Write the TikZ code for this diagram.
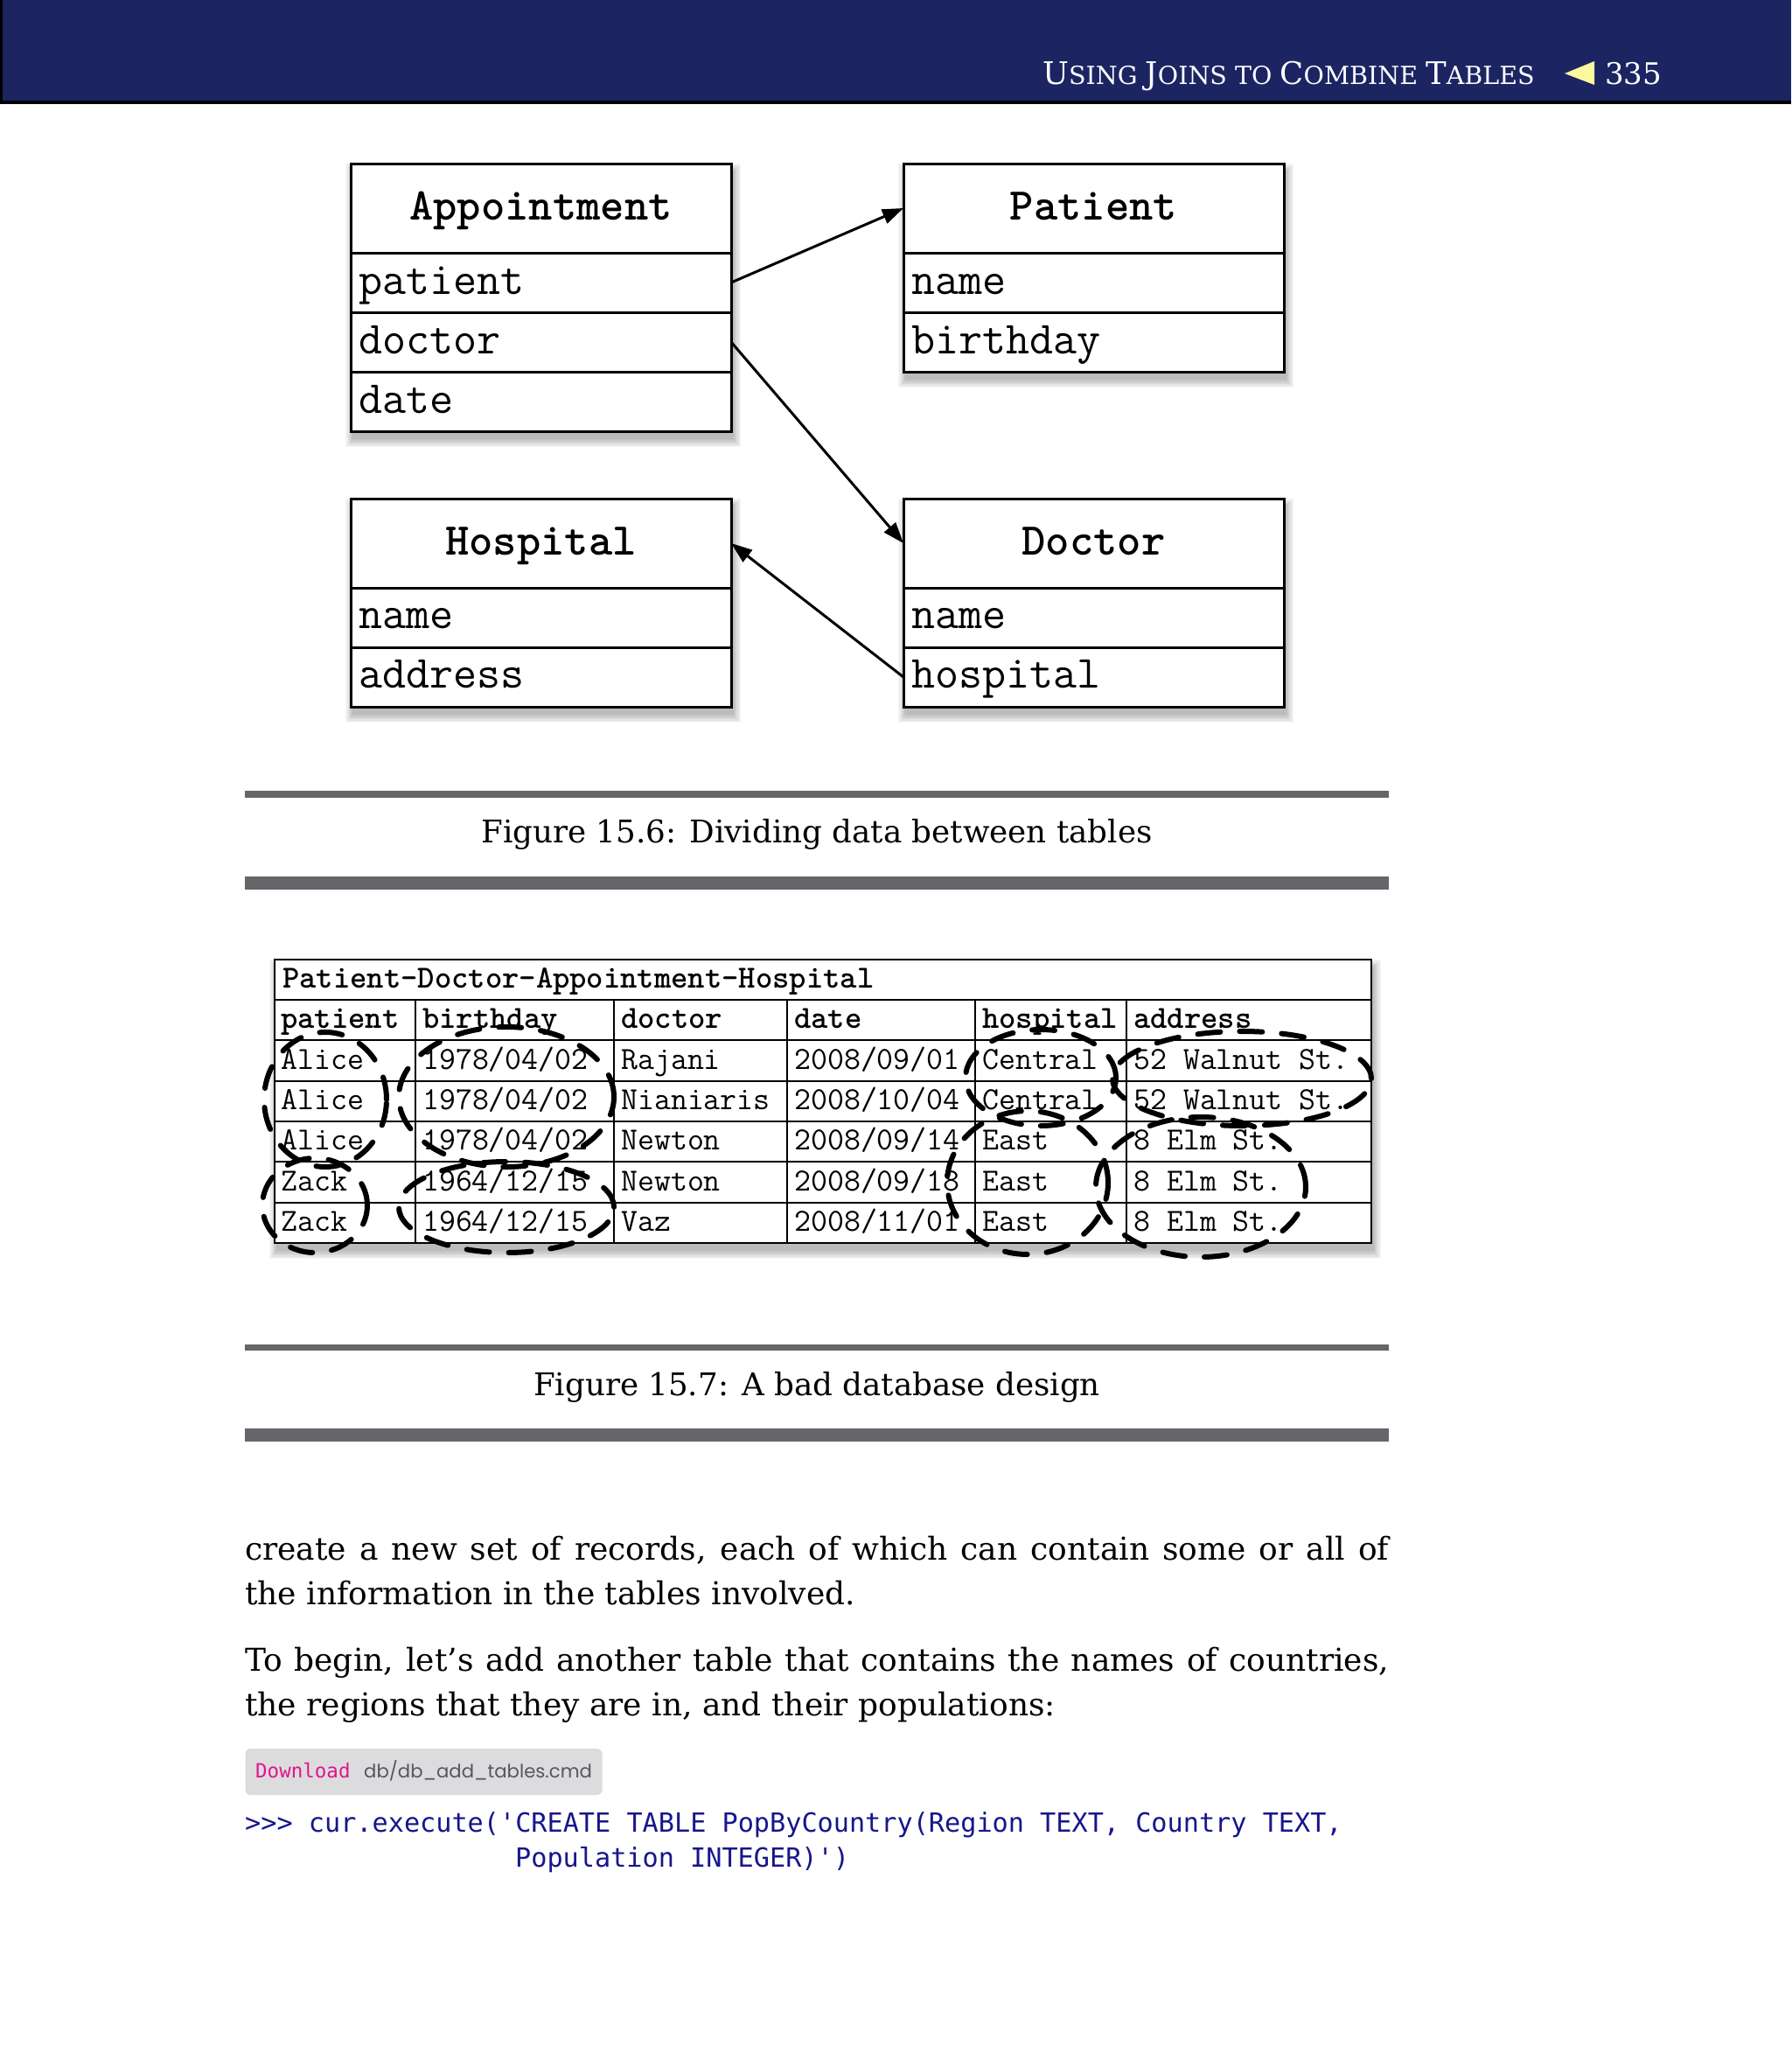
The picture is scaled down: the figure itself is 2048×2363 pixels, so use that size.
\documentclass[tikz,border=0pt]{standalone}
\usepackage{fontspec}
\usetikzlibrary{arrows.meta}
\newfontfamily\serf{DejaVu Serif}
\newfontfamily\codef{DejaVu Sans Mono}
\newfontfamily\popf{Poppins}
\definecolor{hdrblue}{RGB}{28,36,98}
\definecolor{codeblue}{RGB}{22,22,140}
\definecolor{dlmagenta}{RGB}{226,20,140}
\definecolor{pathgray}{RGB}{88,88,90}
\definecolor{dlbg}{RGB}{220,220,222}
\definecolor{rulegray}{RGB}{102,101,106}
\definecolor{triyellow}{RGB}{252,248,160}
\newcommand{\softshadow}[4]{%
  \foreach \k in {0,...,7}{%
    \fill[black,opacity=0.035] ({#1-\k*1.1+2},{#2+8-\k*1.1}) rectangle ({#3+\k*1.1+3},{#4+9+\k*1.3});}}
\tikzset{
  umlrow/.style={draw, line width=3pt, fill=white, minimum width=435pt, inner sep=0pt, outer sep=0pt},
  umltitle/.style={inner sep=0pt, anchor=base, font={\ttfamily\bfseries\fontsize{52}{60}\selectfont}},
  umltxt/.style={inner sep=0pt, anchor=base west, font={\ttfamily\fontsize{52.5}{60}\selectfont}},
  conn/.style={line width=3pt, -{Triangle[length=24pt,width=17pt]}},
  tblhead/.style={inner sep=0pt, anchor=base west, font={\ttfamily\bfseries\fontsize{36.8}{42}\selectfont}},
  tbltxt/.style={inner sep=0pt, anchor=base west, font={\ttfamily\fontsize{36.8}{42}\selectfont}},
  dashell/.style={line width=6pt, line cap=round, dash pattern=on 26pt off 22pt},
  capt/.style={inner sep=0pt, anchor=base, font={\serf\fontsize{35.7}{43}\selectfont}},
  body/.style={inner sep=0pt, anchor=base west, font={\serf\fontsize{36}{51}\selectfont}},
  coderow/.style={inner sep=0pt, anchor=base west, text=codeblue, font={\codef\fontsize{30.2}{40}\selectfont}},
}
\begin{document}
\begin{tikzpicture}[x=1pt,y=-1pt]
\useasboundingbox (0,0) rectangle (2048,2363);
\fill[white] (0,0) rectangle (2048,2363);
% header band
\fill[hdrblue] (0,0) rectangle (2048,116);
\fill[black] (0,115) rectangle (2048,119);
\fill[black] (0,0) rectangle (3,119);
\node[inner sep=0pt, anchor=base west, text=white] (hdr) at (1192,97)
  {\serf\fontsize{35.5}{40}\selectfont U\fontsize{28.5}{40}\selectfont SING \fontsize{35.5}{40}\selectfont J\fontsize{28.5}{40}\selectfont OINS TO \fontsize{35.5}{40}\selectfont C\fontsize{28.5}{40}\selectfont OMBINE \fontsize{35.5}{40}\selectfont T\fontsize{28.5}{40}\selectfont ABLES};
\fill[triyellow] (1789,84) -- (1823,70) -- (1823,97) -- cycle;
\node[inner sep=0pt, anchor=base west, text=white, font={\serf\fontsize{34}{40}\selectfont}] (pg) at (1835,97) {335};

% ---------- Figure 15.6 ----------
\softshadow{401}{187}{836}{493}
\softshadow{1033}{187}{1468}{425}
\softshadow{401}{570}{836}{808}
\softshadow{1033}{570}{1468}{808}
% Appointment
\node[umlrow, minimum height=102pt] (aptT) at (618.5,238) {};
\node[umlrow, minimum height=68pt] (aptP) at (618.5,323) {};
\node[umlrow, minimum height=68pt] (aptD) at (618.5,391) {};
\node[umlrow, minimum height=68pt] (aptA) at (618.5,459) {};
\node[umltitle] (aptTt) at (618.5,251) {Appointment};
\node[umltxt] (aptPt) at (410,336) {patient};
\node[umltxt] (aptDt) at (410,404) {doctor};
\node[umltxt] (aptAt) at (410,472) {date};
% Patient
\node[umlrow, minimum height=102pt] (patT) at (1250.5,238) {};
\node[umlrow, minimum height=68pt] (patN) at (1250.5,323) {};
\node[umlrow, minimum height=68pt] (patB) at (1250.5,391) {};
\node[umltitle] (patTt) at (1250.5,251) {Patient};
\node[umltxt] (patNt) at (1042,336) {name};
\node[umltxt] (patBt) at (1042,404) {birthday};
% Hospital
\node[umlrow, minimum height=102pt] (hosT) at (618.5,621) {};
\node[umlrow, minimum height=68pt] (hosN) at (618.5,706) {};
\node[umlrow, minimum height=68pt] (hosA) at (618.5,774) {};
\node[umltitle] (hosTt) at (618.5,634) {Hospital};
\node[umltxt] (hosNt) at (410,718) {name};
\node[umltxt] (hosAt) at (410,786) {address};
% Doctor
\node[umlrow, minimum height=102pt] (docT) at (1250.5,621) {};
\node[umlrow, minimum height=68pt] (docN) at (1250.5,706) {};
\node[umlrow, minimum height=68pt] (docH) at (1250.5,774) {};
\node[umltitle] (docTt) at (1250.5,634) {Doctor};
\node[umltxt] (docNt) at (1042,718) {name};
\node[umltxt] (docHt) at (1042,786) {hospital};
% connectors
\draw[conn] (aptP.east) -- (patT.west);
\draw[conn] (aptD.east) -- (docT.west);
\draw[conn] (docH.west) -- (hosT.east);

% caption 1
\fill[rulegray] (280,904) rectangle (1588,912);
\node[capt] (cap1) at (934,963) {Figure 15.6: Dividing data between tables};
\fill[rulegray] (280,1002) rectangle (1588,1017);

% ---------- Figure 15.7 ----------
\softshadow{314}{1097}{1568}{1421}
\node[draw, line width=2.5pt, fill=white, minimum width=1254pt, minimum height=324pt, inner sep=0pt, outer sep=0pt] (tbl) at (941,1259) {};
\foreach \yy in {1143,1189,1236,1282,1328,1375}{\draw[line width=2pt] (314,\yy) -- (1568,\yy);}
\foreach \xx in {475,702,900,1115,1288}{\draw[line width=2pt] (\xx,1143) -- (\xx,1421);}
\node[tblhead] (ttl) at (323,1129) {Patient-Doctor-Appointment-Hospital};
\node[tblhead] (h1) at (321,1175) {patient};
\node[tblhead] (h2) at (483,1175) {birthday};
\node[tblhead] (h3) at (710,1175) {doctor};
\node[tblhead] (h4) at (908,1175) {date};
\node[tblhead] (h5) at (1123,1175) {hospital};
\node[tblhead] (h6) at (1296,1175) {address};
% row 1
\node[tbltxt] (r1a) at (321,1222) {Alice};
\node[tbltxt] (r1b) at (483,1222) {1978/04/02};
\node[tbltxt] (r1c) at (710,1222) {Rajani};
\node[tbltxt] (r1d) at (908,1222) {2008/09/01};
\node[tbltxt] (r1e) at (1123,1222) {Central};
\node[tbltxt] (r1f) at (1296,1222) {52 Walnut St.};
% row 2
\node[tbltxt] (r2a) at (321,1268) {Alice};
\node[tbltxt] (r2b) at (483,1268) {1978/04/02};
\node[tbltxt] (r2c) at (710,1268) {Nianiaris};
\node[tbltxt] (r2d) at (908,1268) {2008/10/04};
\node[tbltxt] (r2e) at (1123,1268) {Central};
\node[tbltxt] (r2f) at (1296,1268) {52 Walnut St.};
% row 3
\node[tbltxt] (r3a) at (321,1314) {Alice};
\node[tbltxt] (r3b) at (483,1314) {1978/04/02};
\node[tbltxt] (r3c) at (710,1314) {Newton};
\node[tbltxt] (r3d) at (908,1314) {2008/09/14};
\node[tbltxt] (r3e) at (1123,1314) {East};
\node[tbltxt] (r3f) at (1296,1314) {8 Elm St.};
% row 4
\node[tbltxt] (r4a) at (321,1361) {Zack};
\node[tbltxt] (r4b) at (483,1361) {1964/12/15};
\node[tbltxt] (r4c) at (710,1361) {Newton};
\node[tbltxt] (r4d) at (908,1361) {2008/09/18};
\node[tbltxt] (r4e) at (1123,1361) {East};
\node[tbltxt] (r4f) at (1296,1361) {8 Elm St.};
% row 5
\node[tbltxt] (r5a) at (321,1407) {Zack};
\node[tbltxt] (r5b) at (483,1407) {1964/12/15};
\node[tbltxt] (r5c) at (710,1407) {Vaz};
\node[tbltxt] (r5d) at (908,1407) {2008/11/01};
\node[tbltxt] (r5e) at (1123,1407) {East};
\node[tbltxt] (r5f) at (1296,1407) {8 Elm St.};
% dashed ellipses
\draw[dashell] (372,1257) ellipse [x radius=70pt, y radius=77pt];
\draw[dashell] (360,1378) ellipse [x radius=60pt, y radius=54pt];
\draw[dashell] (579,1254) ellipse [x radius=123pt, y radius=80pt];
\draw[dashell] (579,1380) ellipse [x radius=123pt, y radius=52pt];
\draw[dashell] (1190,1232) ellipse [x radius=86pt, y radius=55pt];
\draw[dashell] (1420,1233) ellipse [x radius=148pt, y radius=54pt];
\draw[dashell] (1175,1352) ellipse [x radius=92pt, y radius=82pt];
\draw[dashell] (1373,1357) ellipse [x radius=120pt, y radius=80pt];

% caption 2
\fill[rulegray] (280,1537) rectangle (1588,1544);
\node[capt] (cap2) at (934,1595) {Figure 15.7: A bad database design};
\fill[rulegray] (280,1633) rectangle (1588,1648);

% ---------- body text ----------
\node[body] (b1) at (280,1783) {\hbox to 1308pt{\spaceskip=0.3em plus 1fil create a new set of records, each of which can contain some or all of}};
\node[body] (b2) at (280,1834) {the information in the tables involved.};
\node[body] (b3) at (280,1910) {\hbox to 1308pt{\spaceskip=0.3em plus 1fil To begin, let’s add another table that contains the names of countries,}};
\node[body] (b4) at (280,1961) {the regions that they are in, and their populations:};

% download bar
\node[fill=dlbg, rounded corners=6pt, minimum width=408pt, minimum height=53pt, inner sep=0pt] (dlbox) at (484.5,2025.5) {};
\node[inner sep=0pt, anchor=base west, text=dlmagenta, font={\codef\fontsize{22.5}{28}\selectfont}] (dl) at (292,2032) {Download};
\node[inner sep=0pt, anchor=base west, text=pathgray, font={\popf\fontsize{21.2}{28}\selectfont}] (dlpath) at (416,2032) {db/db\_add\_tables.cmd};
% code
\node[coderow] (c1) at (280,2094) {>{}>{}> cur.execute('CREATE TABLE PopByCountry(Region TEXT, Country TEXT,};
\node[coderow] (c2) at (589,2134) {Population INTEGER)')};
\end{tikzpicture}
\end{document}
